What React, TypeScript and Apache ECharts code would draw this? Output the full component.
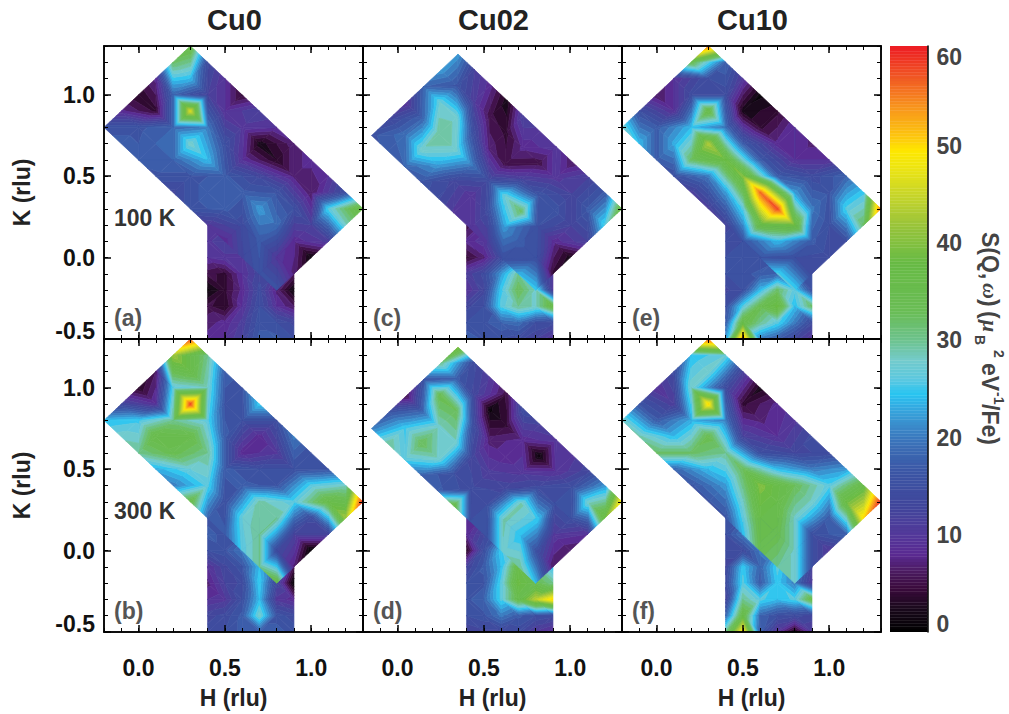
import React, { useEffect, useRef } from "react";
import * as echarts from "echarts";

// Colour scale: [value, colour]
const colorStops: [number, string][] = [
  [0, "#000000"], [2.5, "#1c0a1e"], [4.5, "#3a0a3c"], [6, "#4a1a5c"], [8, "#5a2a92"], [10, "#53399a"],
  [13, "#41479c"], [16, "#3c53a3"], [19, "#3b6cb4"], [21, "#3b88c8"], [23, "#35a8e0"], [24.5, "#29c5f2"],
  [26, "#5cc8e0"], [28, "#74cbcb"], [30, "#6dc38f"], [33, "#6abd55"], [38, "#68bb45"], [42, "#9cc53a"],
  [45, "#c8d62a"], [48, "#f0e610"], [49.5, "#ffe800"], [51, "#fdc60e"], [54, "#f8951d"], [57, "#f15a24"], [60.3, "#ed1c24"],
];
const colorTicks = [0, 10, 20, 30, 40, 50, 60];
const hTicks = [0, 0.5, 1];
const kTicks = [-0.5, 0, 0.5, 1];
const lowerH = [0.4, 0.5, 0.6, 0.7, 0.8, 0.9];
const lowerK = [0.2, 0.1, 0, -0.1, -0.2, -0.3, -0.4, -0.5];

// Rotated blocks: rows from the top-right edge (v=5) to the bottom-left edge (v=0)
const cu0_100K_rot = [
  [36, 14, 9, 4, 12, 9, 7, 8, 9, 15, 38],
  [32, 24, 12, 9, 10, 2, 3, 7, 6, 26, 28],
  [8, 18, 46, 20, 15, 9, 13, 16, 15, 12, 11],
  [3, 4, 18, 28, 24, 17, 17, 22, 19, 8, 1],
  [8, 16, 18, 18, 16, 17, 17, 14, 17, 10, 7],
  [16, 17, 17, 16, 13, 16, 10, 8, 13, 16, 16],
];
const cu0_100K_low = [
  [9, 10, 10, 10, 10, 10], [10, 12, 12, 12, 12, 10], [9, 10, 10, 12, 10, 8], [5, 4, 9, 13, 10, 6],
  [1, 4, 8, 14, 7, 1], [5, 3, 9, 15, 9, 6], [7, 8, 11, 16, 15, 13], [8, 9, 12, 17, 17, 15],
];
const cu0_300K_rot = [
  [58, 30, 17, 16, 25, 15, 20, 15, 16, 28, 60],
  [42, 36, 28, 16, 15, 8, 10, 15, 26, 36, 42],
  [6, 26, 58, 26, 17, 8, 15, 16, 26, 14, 12],
  [3, 9, 30, 35, 30, 17, 17, 29, 30, 12, 0],
  [13, 25, 36, 34, 27, 26, 15, 27, 30, 14, 7],
  [24, 28, 30, 23, 20, 35, 18, 17, 26, 30, 36],
];
const cu0_300K_low = [
  [16, 16, 16, 16, 16, 16], [17, 16, 16, 16, 16, 16], [15, 16, 20, 20, 16, 10], [9, 13, 16, 24, 16, 5],
  [7, 12, 14, 25, 13, 0], [9, 10, 15, 24, 10, 8], [13, 14, 17, 28, 16, 14], [14, 15, 17, 17, 17, 16],
];
const cu02_100K_rot = [
  [22, 12, 8, 2, 12, 10, 10, 6, 12, 17, 36],
  [22, 16, 11, 5, 4, 8, 5, 10, 12, 17, 26],
  [18, 27, 28, 15, 7, 5, 12, 16, 16, 12, 12],
  [9, 18, 30, 28, 20, 14, 27, 32, 15, 8, 2],
  [13, 19, 28, 22, 13, 9, 14, 22, 17, 15, 4],
  [16, 17, 18, 16, 14, 10, 9, 10, 15, 24, 25],
];
const cu02_100K_low = [
  [5, 8, 10, 12, 12, 12], [8, 10, 12, 14, 14, 14], [4, 7, 14, 20, 16, 12], [11, 14, 22, 30, 20, 10],
  [9, 13, 25, 33, 28, 10], [13, 15, 26, 30, 28, 36], [15, 16, 18, 19, 15, 14], [18, 16, 15, 14, 12, 9],
];
const cu02_300K_rot = [
  [40, 14, 10, 5, 15, 12, 10, 10, 13, 22, 50],
  [30, 17, 13, 1, 4, 8, 1, 9, 15, 28, 38],
  [16, 34, 33, 15, 7, 8, 10, 14, 15, 15, 9],
  [5, 18, 28, 28, 13, 11, 13, 29, 25, 10, 6],
  [16, 25, 33, 28, 15, 14, 15, 29, 24, 15, 6],
  [20, 30, 26, 18, 17, 36, 15, 15, 28, 30, 24],
];
const cu02_300K_low = [
  [8, 10, 15, 15, 15, 15], [8, 13, 18, 20, 20, 20], [3, 15, 25, 30, 28, 20], [12, 17, 24, 36, 30, 24],
  [15, 16, 26, 38, 34, 30], [16, 18, 26, 35, 44, 50], [15, 16, 20, 17, 15, 14], [12, 13, 13, 14, 10, 8],
];
const cu10_100K_rot = [
  [56, 18, 10, 1, 4, 9, 7, 9, 18, 25, 56],
  [34, 15, 14, 2, 4, 8, 9, 14, 16, 26, 32],
  [9, 14, 36, 19, 17, 17, 17, 22, 20, 15, 15],
  [6, 9, 24, 43, 38, 40, 56, 58, 38, 17, 14],
  [15, 17, 23, 32, 20, 22, 26, 36, 24, 15, 14],
  [28, 24, 17, 15, 11, 11, 12, 16, 16, 26, 26],
];
const cu10_100K_low = [
  [13, 14, 14, 14, 14, 14], [14, 15, 15, 15, 15, 15], [15, 15, 15, 16, 16, 15], [15, 16, 17, 18, 18, 16],
  [13, 15, 24, 32, 26, 15], [15, 26, 34, 38, 24, 32], [17, 36, 30, 26, 20, 14], [22, 55, 20, 17, 13, 9],
];
const cu10_300K_rot = [
  [58, 27, 12, 2, 8, 10, 14, 14, 22, 36, 60],
  [24, 28, 14, 4, 7, 9, 13, 20, 26, 38, 50],
  [14, 28, 50, 20, 12, 15, 24, 33, 28, 17, 18],
  [9, 11, 23, 34, 30, 33, 40, 36, 28, 15, 10],
  [16, 17, 24, 32, 24, 22, 28, 36, 34, 28, 15],
  [28, 29, 32, 18, 16, 16, 16, 24, 34, 30, 28],
];
const cu10_300K_low = [
  [16, 16, 18, 18, 18, 16], [15, 20, 20, 20, 20, 15], [14, 14, 20, 22, 20, 14], [13, 25, 18, 26, 20, 12],
  [14, 26, 17, 25, 20, 10], [12, 30, 26, 24, 26, 35], [18, 36, 18, 15, 14, 13], [30, 50, 17, 9, 2, 10],
];

const bandStep = 1.5;

function hexToRgb(h: string) {
  return [parseInt(h.slice(1, 3), 16), parseInt(h.slice(3, 5), 16), parseInt(h.slice(5, 7), 16)];
}
function colorOf(v: number) {
  if (v <= colorStops[0][0]) return colorStops[0][1];
  for (let i = 1; i < colorStops.length; i++) {
    if (v <= colorStops[i][0]) {
      const [a, ca] = colorStops[i - 1];
      const [b, cb] = colorStops[i];
      const t = (v - a) / (b - a);
      const A = hexToRgb(ca);
      const B = hexToRgb(cb);
      return `rgb(${A.map((x, k) => Math.round(x + (B[k] - x) * t)).join(",")})`;
    }
  }
  return colorStops[colorStops.length - 1][1];
}

type P = [number, number, number];
function clipPoly(poly: P[], level: number, keepAbove: boolean): P[] {
  const out: P[] = [];
  for (let i = 0; i < poly.length; i++) {
    const a = poly[i];
    const b = poly[(i + 1) % poly.length];
    const ina = keepAbove ? a[2] >= level : a[2] <= level;
    const inb = keepAbove ? b[2] >= level : b[2] <= level;
    if (ina) out.push(a);
    if (ina !== inb) {
      const t = (level - a[2]) / (b[2] - a[2]);
      out.push([a[0] + (b[0] - a[0]) * t, a[1] + (b[1] - a[1]) * t, level]);
    }
  }
  return out;
}

function triangleBands(tri: P[], children: any[]) {
  const vals = tri.map((p) => p[2]);
  const lo = Math.floor(Math.min(...vals) / bandStep);
  const hi = Math.floor(Math.max(...vals) / bandStep);
  for (let b = lo; b <= hi; b++) {
    let poly = clipPoly(tri, b * bandStep, true);
    if (poly.length >= 3) poly = clipPoly(poly, (b + 1) * bandStep, false);
    if (poly.length < 3) continue;
    const fill = colorOf((b + 0.5) * bandStep);
    children.push({
      type: "polygon",
      silent: true,
      shape: { points: poly.map((p) => [p[0], p[1]]) },
      style: { fill, stroke: fill, lineWidth: 0.7 },
    });
  }
}

// Each data item: one grid cell as four corners, [h, k, value] x 4.
// The cell is split along the diagonal joining the two closest values.
function renderCell(_: any, api: any) {
  const c: P[] = [0, 3, 6, 9].map((o) => {
    const p = api.coord([api.value(o), api.value(o + 1)]);
    return [p[0], p[1], api.value(o + 2)] as P;
  });
  const children: any[] = [];
  if (Math.abs(c[0][2] - c[2][2]) <= Math.abs(c[1][2] - c[3][2])) {
    triangleBands([c[0], c[1], c[2]], children);
    triangleBands([c[0], c[2], c[3]], children);
  } else {
    triangleBands([c[0], c[1], c[3]], children);
    triangleBands([c[1], c[2], c[3]], children);
  }
  return { type: "group", children };
}

function rotCells(rows: number[][], origin: number[], stepU: number) {
  const out: number[][] = [];
  const node = (r: number, u: number) => {
    const v = 5 - r;
    return [
      origin[0] + stepU * u + 0.1 * v,
      origin[1] - stepU * u + 0.1 * v,
      rows[r][u],
    ];
  };
  for (let r = 0; r < rows.length - 1; r++)
    for (let u = 0; u < rows[0].length - 1; u++)
      out.push([...node(r, u), ...node(r, u + 1), ...node(r + 1, u + 1), ...node(r + 1, u)]);
  return out;
}
function lowCells(rows: number[][]) {
  const out: number[][] = [];
  const node = (r: number, c: number) => [lowerH[c], lowerK[r], rows[r][c]];
  for (let r = 0; r < rows.length - 1; r++)
    for (let c = 0; c < rows[0].length - 1; c++)
      out.push([...node(r, c), ...node(r, c + 1), ...node(r + 1, c + 1), ...node(r + 1, c)]);
  return out;
}

const panels = [
  { rot: cu0_100K_rot, low: cu0_100K_low, col: 0, row: 0, tag: "(a)", origin: [-0.2, 0.8], step: 0.1 },
  { rot: cu0_300K_rot, low: cu0_300K_low, col: 0, row: 1, tag: "(b)", origin: [-0.2, 0.8], step: 0.1 },
  { rot: cu02_100K_rot, low: cu02_100K_low, col: 1, row: 0, tag: "(c)", origin: [-0.15, 0.75], step: 0.095 },
  { rot: cu02_300K_rot, low: cu02_300K_low, col: 1, row: 1, tag: "(d)", origin: [-0.15, 0.75], step: 0.095 },
  { rot: cu10_100K_rot, low: cu10_100K_low, col: 2, row: 0, tag: "(e)", origin: [-0.2, 0.8], step: 0.1 },
  { rot: cu10_300K_rot, low: cu10_300K_low, col: 2, row: 1, tag: "(f)", origin: [-0.2, 0.8], step: 0.1 },
];
const titles = ["Cu0", "Cu02", "Cu10"];
const tempLabels = ["100 K", "300 K"];

const FONT = "'Liberation Sans', Arial, sans-serif";
const colX = [104, 363, 622];
const rowY = [46, 339];
const PW = 259;
const PH = 293;

function buildOption() {
  const grid: any[] = [];
  const xAxis: any[] = [];
  const yAxis: any[] = [];
  const series: any[] = [];
  const graphic: any[] = [];
  const line = { show: true, onZero: false, lineStyle: { color: "#000", width: 1.5 } };

  panels.forEach((p) => {
    const g = grid.length;
    grid.push({ left: colX[p.col], top: rowY[p.row], width: PW, height: PH, show: false, containLabel: false, outerBoundsMode: "none" });
    const xBase = { gridIndex: g, type: "value", min: -0.2, max: 1.3, splitLine: { show: false }, z: 6, axisLine: line };
    const yBase = { gridIndex: g, type: "value", min: -0.5, max: 1.3, splitLine: { show: false }, z: 6, axisLine: line };
    const major = (vals: number[]) => ({ show: true, inside: true, length: 7, customValues: vals, lineStyle: { color: "#000", width: 1.5 } });
    const minor = { show: true, inside: true, length: 4, lineStyle: { color: "#000", width: 1 } };
    const xi = xAxis.length;
    xAxis.push({
      ...xBase,
      position: "bottom",
      axisTick: major(hTicks),
      axisLabel: p.row === 1
        ? { show: true, customValues: hTicks, margin: 24, color: "#111", fontFamily: FONT, fontWeight: "bold", fontSize: 23, formatter: (v: number) => v.toFixed(1) }
        : { show: false },
      ...(p.row === 1
        ? { name: "H (rlu)", nameLocation: "middle", nameGap: 54, nameTextStyle: { color: "#222", fontFamily: FONT, fontWeight: "bold", fontSize: 23 } }
        : {}),
    });
    xAxis.push({ ...xBase, position: "bottom", interval: 0.1, axisTick: minor, axisLabel: { show: false } });
    xAxis.push({ ...xBase, position: "top", axisTick: major(hTicks), axisLabel: { show: false } });
    xAxis.push({ ...xBase, position: "top", interval: 0.1, axisTick: minor, axisLabel: { show: false } });
    const yi = yAxis.length;
    yAxis.push({
      ...yBase,
      position: "left",
      axisTick: major(kTicks),
      axisLabel: p.col === 0
        ? { show: true, customValues: kTicks, margin: 9, color: "#111", fontFamily: FONT, fontWeight: "bold", fontSize: 23, lineHeight: 16, verticalAlignMinLabel: "bottom", formatter: (v: number) => v.toFixed(1) }
        : { show: false },
      ...(p.col === 0
        ? { name: "K (rlu)", nameLocation: "middle", nameGap: 71, nameRotate: 90, nameTextStyle: { color: "#222", fontFamily: FONT, fontWeight: "bold", fontSize: 23 } }
        : {}),
    });
    yAxis.push({ ...yBase, position: "left", interval: 0.1, axisTick: minor, axisLabel: { show: false } });
    yAxis.push({ ...yBase, position: "right", axisTick: major(kTicks), axisLabel: { show: false } });
    yAxis.push({ ...yBase, position: "right", interval: 0.1, axisTick: minor, axisLabel: { show: false } });

    series.push({
      type: "custom", xAxisIndex: xi, yAxisIndex: yi, renderItem: renderCell, clip: false, silent: true, z: 2,
      data: lowCells(p.low),
    });
    series.push({
      type: "custom", xAxisIndex: xi, yAxisIndex: yi, renderItem: renderCell, clip: false, silent: true, z: 3,
      data: rotCells(p.rot, p.origin, p.step),
    });
    graphic.push({
      type: "text", left: colX[p.col] + 10, top: rowY[p.row] + 260, z: 20,
      style: { text: p.tag, fill: "#555", font: `bold 23px ${FONT}` },
    });
  });

  tempLabels.forEach((t, i) => {
    graphic.push({
      type: "text", left: 114, top: rowY[i] + 160, z: 20,
      style: { text: t, fill: "#333", font: `bold 23px ${FONT}` },
    });
  });

  // Colour bar
  const gc = grid.length;
  grid.push({ left: 890, top: 46, width: 37.5, height: 586, show: false, containLabel: false, outerBoundsMode: "none" });
  xAxis.push({ gridIndex: gc, type: "value", min: 0, max: 1, show: false });
  yAxis.push({
    gridIndex: gc, type: "value", min: 0, max: 60.3, position: "right", z: 6,
    splitLine: { show: false },
    axisLine: { show: true, onZero: false, lineStyle: { color: "#000", width: 1.5 } },
    axisTick: { show: false },
    axisLabel: {
      show: true, customValues: colorTicks, margin: 9, color: "#444", fontFamily: FONT, fontWeight: "bold", fontSize: 23, lineHeight: 16,
      verticalAlignMinLabel: "bottom", verticalAlignMaxLabel: "top",
    },
  });
  const barData: number[][] = [];
  for (let v = 0; v < 60.3; v += 0.3) barData.push([v, v + 0.3]);
  series.push({
    type: "custom", xAxisIndex: xAxis.length - 1, yAxisIndex: yAxis.length - 1, silent: true, clip: true, z: 2,
    encode: { y: [0, 1] },
    data: barData,
    renderItem: (_: any, api: any) => {
      const a = api.coord([0, api.value(0)]);
      const b = api.coord([1, api.value(1)]);
      const fill = colorOf((api.value(0) + api.value(1)) / 2);
      return { type: "rect", silent: true, shape: { x: a[0], y: b[1], width: b[0] - a[0], height: a[1] - b[1] }, style: { fill, stroke: fill, lineWidth: 0.4 } };
    },
  });

  // Colour bar title: pieces set along the rotated line
  const main = `bold 23px ${FONT}`;
  const small = `bold 14px ${FONT}`;
  const serif = `italic bold 22px 'Liberation Serif', serif`;
  const piece = (text: string, x: number, y: number, font: string) => ({
    type: "text", x, y, style: { text, fill: "#444", font, verticalAlign: "middle" },
  });
  graphic.push({
    type: "group", x: 990, y: 232, rotation: -Math.PI / 2, z: 20,
    children: [
      piece("S(Q,", 0, 0, main),
      piece("\u03c9", 51, 0, serif),
      piece(")", 67, 0, main),
      piece("(", 79, 0, main),
      piece("\u03bc", 88, 0, serif),
      piece("B", 103, 10, small),
      piece("2", 118, -9, small),
      piece("eV", 131, 0, main),
      piece("-1", 160, -9, small),
      piece("/Fe)", 172, 0, main),
    ],
  });

  return {
    animation: false,
    backgroundColor: "#fff",
    title: titles.map((t, i) => ({
      text: t,
      left: colX[i] + PW / 2 - 4,
      top: 0,
      textAlign: "center",
      textStyle: { color: "#222", fontFamily: FONT, fontWeight: "bold", fontSize: 29 },
    })),
    grid, xAxis, yAxis, series, graphic,
  };
}

export default function App() {
  const ref = useRef<HTMLDivElement>(null);
  useEffect(() => {
    const chart = echarts.init(ref.current!, undefined, { renderer: "svg" });
    chart.setOption(buildOption() as any);
    return () => chart.dispose();
  }, []);
  return <div ref={ref} style={{ position: "absolute", left: 0, top: 0, width: 1009, height: 714 }} />;
}
